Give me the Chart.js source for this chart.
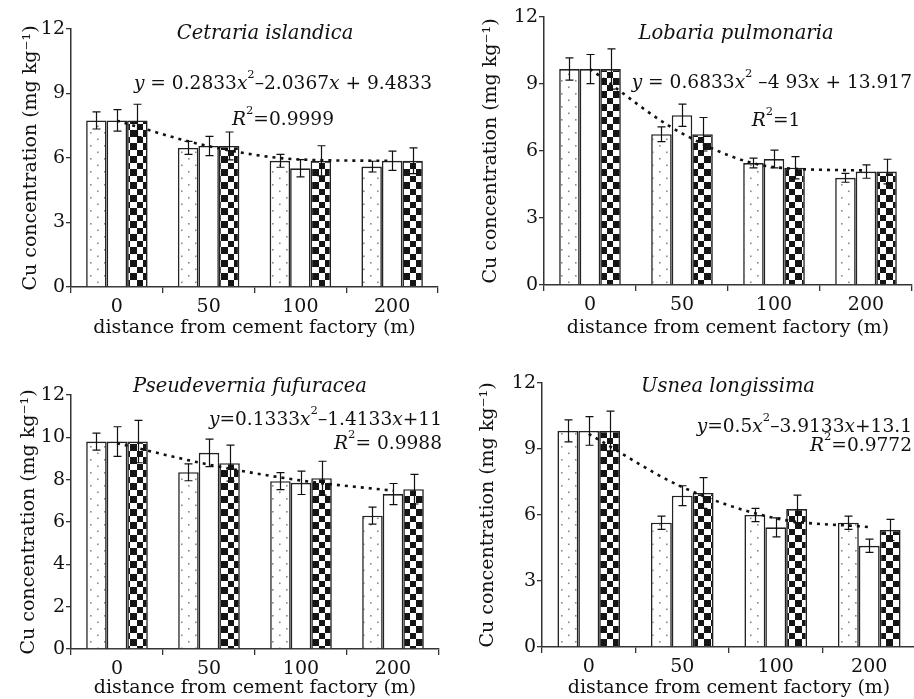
<!DOCTYPE html>
<html>
<head>
<meta charset="utf-8">
<script src="https://cdn.jsdelivr.net/npm/chart.js@4.4.1/dist/chart.umd.min.js"></script>
<style>
  html, body { margin:0; padding:0; background:#fff; width:914px; height:699px; overflow:hidden; }
  .panel { position:absolute; }
</style>
</head>
<body>
<div class="panel" style="left:0;top:0;"><canvas id="c1" width="457" height="340"></canvas></div>
<div class="panel" style="left:457px;top:0;"><canvas id="c2" width="460" height="340"></canvas></div>
<div class="panel" style="left:0;top:340px;"><canvas id="c3" width="457" height="359"></canvas></div>
<div class="panel" style="left:457px;top:340px;"><canvas id="c4" width="460" height="359"></canvas></div>
<script>
// ---------- DATA ----------
const categories = ['0', '50', '100', '200'];

// Cetraria islandica
const cetrariaDotted = [7.75, 6.47, 5.87, 5.60];
const cetrariaWhite  = [7.75, 6.56, 5.52, 5.87];
const cetrariaCheck  = [7.75, 6.56, 5.87, 5.87];
const cetrariaErrDotted = [0.40, 0.30, 0.30, 0.25];
const cetrariaErrWhite  = [0.50, 0.45, 0.40, 0.45];
const cetrariaErrCheck  = [0.75, 0.65, 0.70, 0.60];
const cetrariaTrend = [7.73, 6.55, 5.93, 5.87];

// Lobaria pulmonaria
const lobariaDotted = [9.67, 6.75, 5.46, 4.80];
const lobariaWhite  = [9.67, 7.60, 5.64, 5.08];
const lobariaCheck  = [9.67, 6.75, 5.25, 5.08];
const lobariaErrDotted = [0.50, 0.33, 0.22, 0.20];
const lobariaErrWhite  = [0.65, 0.50, 0.40, 0.30];
const lobariaErrCheck  = [0.90, 0.75, 0.50, 0.55];
const lobariaTrend = [9.67, 6.79, 5.28, 5.13];

// Pseudevernia fufuracea
const pseudDotted = [9.80, 8.35, 7.93, 6.30];
const pseudWhite  = [9.80, 9.27, 7.85, 7.32];
const pseudCheck  = [9.80, 8.78, 8.07, 7.55];
const pseudErrDotted = [0.40, 0.40, 0.40, 0.40];
const pseudErrWhite  = [0.70, 0.65, 0.55, 0.50];
const pseudErrCheck  = [1.00, 0.85, 0.80, 0.70];
const pseudTrend = [9.72, 8.71, 7.96, 7.48];

// Usnea longissima
const usneaDotted = [9.82, 5.65, 6.00, 5.65];
const usneaWhite  = [9.82, 6.88, 5.44, 4.60];
const usneaCheck  = [9.82, 7.00, 6.27, 5.32];
const usneaErrDotted = [0.50, 0.30, 0.30, 0.30];
const usneaErrWhite  = [0.65, 0.45, 0.43, 0.30];
const usneaErrCheck  = [0.90, 0.70, 0.63, 0.48];
const usneaTrend = [9.69, 7.27, 5.85, 5.45];

const ticks3 = [0, 3, 6, 9, 12];
const ticks2 = [0, 2, 4, 6, 8, 10, 12];

// ---------- STYLE ----------
const FONT = '"DejaVu Serif", "Liberation Serif", serif';
const INK = '#111111';

function makeDotPattern() {
  const c = document.createElement('canvas');
  c.width = 14; c.height = 13;
  const g = c.getContext('2d');
  g.fillStyle = '#fff'; g.fillRect(0, 0, 14, 13);
  g.fillStyle = '#8a8a8a';
  g.fillRect(6, 2, 1.6, 1.6);
  g.fillRect(13, 8.5, 1.6, 1.6);
  g.fillRect(-1, 8.5, 1.6, 1.6);
  return g.createPattern(c, 'repeat');
}
function makeCheckPattern() {
  const c = document.createElement('canvas');
  c.width = 13; c.height = 13;
  const g = c.getContext('2d');
  g.fillStyle = '#fff'; g.fillRect(0, 0, 13, 13);
  g.fillStyle = '#151515';
  g.fillRect(0, 0, 7, 7);
  g.fillRect(7, 7, 6, 6);
  return g.createPattern(c, 'repeat');
}
const dotPattern = makeDotPattern();
const checkPattern = makeCheckPattern();

function seg(t, o) { return Object.assign({ t: t }, o || {}); }

function drawRich(ctx, segs, x, y, align, size) {
  let total = 0;
  segs.forEach(s => {
    const sz = s.sup ? size * 0.62 : size;
    s.font = (s.i ? 'italic ' : '') + sz + 'px ' + FONT;
    ctx.font = s.font;
    s.w = ctx.measureText(s.t).width;
    total += s.w;
  });
  let cx = align === 'right' ? x - total : (align === 'center' ? x - total / 2 : x);
  ctx.textBaseline = 'middle';
  ctx.textAlign = 'left';
  ctx.fillStyle = INK;
  segs.forEach(s => {
    ctx.font = s.font;
    ctx.fillText(s.t, cx, s.sup ? y - size * 0.5 : y);
    cx += s.w;
  });
}

const errorBarPlugin = {
  id: 'errorBars',
  afterDatasetsDraw(chart) {
    const ctx = chart.ctx;
    const ys = chart.scales.y;
    ctx.save();
    ctx.strokeStyle = INK;
    ctx.lineWidth = 1.2;
    chart.data.datasets.forEach((ds, i) => {
      if (!ds.errors) return;
      const meta = chart.getDatasetMeta(i);
      meta.data.forEach((el, j) => {
        const v = ds.data[j], e = ds.errors[j];
        const x = Math.round(el.x) + 0.5;
        const y1 = ys.getPixelForValue(v + e), y2 = ys.getPixelForValue(v - e);
        ctx.beginPath();
        ctx.moveTo(x, y1); ctx.lineTo(x, y2);
        ctx.moveTo(x - 4, y1); ctx.lineTo(x + 4, y1);
        ctx.moveTo(x - 4, y2); ctx.lineTo(x + 4, y2);
        ctx.stroke();
      });
    });
    ctx.restore();
  }
};

const textPlugin = {
  id: 'panelText',
  afterDraw(chart, args, opts) {
    const ctx = chart.ctx;
    ctx.save();
    (opts.items || []).forEach(it => drawRich(ctx, it.segs, it.x, it.y, it.align, it.size || 18.6));
    ctx.restore();
  }
};

function makePanel(id, cfg) {
  const datasets = [
    { type: 'bar', data: cfg.dotted, errors: cfg.errDotted, backgroundColor: dotPattern, borderColor: '#222', borderWidth: 1.6, order: 2 },
    { type: 'bar', data: cfg.white, errors: cfg.errWhite, backgroundColor: '#ffffff', borderColor: '#222', borderWidth: 1.6, order: 2 },
    { type: 'bar', data: cfg.check, errors: cfg.errCheck, backgroundColor: checkPattern, borderColor: '#222', borderWidth: 1.6, order: 2 },
    { type: 'line', data: cfg.trend, borderColor: INK, borderWidth: 2.6, borderDash: [3, 5], pointRadius: 0, fill: false, cubicInterpolationMode: 'monotone', order: 1 }
  ];
  return new Chart(document.getElementById(id), {
    type: 'bar',
    data: { labels: categories, datasets: datasets },
    options: {
      responsive: false,
      animation: false,
      events: [],
      layout: { padding: cfg.padding },
      datasets: { bar: { categoryPercentage: 0.67, barPercentage: 1.0 } },
      plugins: {
        legend: { display: false },
        tooltip: { enabled: false },
        panelText: { items: cfg.texts }
      },
      scales: {
        x: {
          afterFit: s => { s.height = cfg.xHeight; },
          grid: { display: true, drawOnChartArea: false, offset: true, tickLength: 6, color: '#333', lineWidth: 1.3 },
          border: { display: true, color: '#333', width: 1.5 },
          ticks: { color: INK, font: { family: FONT, size: 19 }, padding: 3 },
          title: { display: true, text: 'distance from cement factory (m)', color: INK, font: { family: FONT, size: 19 }, padding: { top: 0, bottom: cfg.xTitlePad } }
        },
        y: {
          min: 0, max: 12,
          afterFit: s => { s.width = cfg.yWidth; },
          afterBuildTicks: s => { s.ticks = cfg.yTicks.map(v => ({ value: v })); },
          grid: { display: true, drawOnChartArea: false, tickLength: 5, color: '#333', lineWidth: 1.3 },
          border: { display: true, color: '#333', width: 1.5 },
          ticks: { color: INK, font: { family: FONT, size: 19 }, padding: 1 },
          title: { display: true, text: 'Cu concentration (mg kg\u207B\u00B9)', color: INK, font: { family: FONT, size: 19 }, padding: { top: cfg.yTitlePad, bottom: 0 } }
        }
      }
    },
    plugins: [errorBarPlugin, textPlugin]
  });
}

makePanel('c1', {
  dotted: cetrariaDotted, white: cetrariaWhite, check: cetrariaCheck,
  errDotted: cetrariaErrDotted, errWhite: cetrariaErrWhite, errCheck: cetrariaErrCheck,
  trend: cetrariaTrend, yTicks: ticks3,
  padding: { left: 0, right: 19, top: 29, bottom: 0 }, yWidth: 71, xHeight: 53, xTitlePad: 1, yTitlePad: 20,
  texts: [
    { segs: [seg('Cetraria islandica', { i: true })], x: 265, y: 34, align: 'center', size: 19.5 },
    { segs: [seg('y', { i: true }), seg(' = 0.2833'), seg('x', { i: true }), seg('2', { sup: true }), seg('\u20132.0367'), seg('x', { i: true }), seg(' + 9.4833')], x: 432, y: 84, align: 'right' },
    { segs: [seg('R', { i: true }), seg('2', { sup: true }), seg('=0.9999')], x: 283, y: 120, align: 'center' }
  ]
});

makePanel('c2', {
  dotted: lobariaDotted, white: lobariaWhite, check: lobariaCheck,
  errDotted: lobariaErrDotted, errWhite: lobariaErrWhite, errCheck: lobariaErrCheck,
  trend: lobariaTrend, yTicks: ticks3,
  padding: { left: 0, right: 5, top: 17, bottom: 0 }, yWidth: 87, xHeight: 55, xTitlePad: 1, yTitlePad: 23,
  texts: [
    { segs: [seg('Lobaria pulmonaria', { i: true })], x: 279, y: 34, align: 'center', size: 19.5 },
    { segs: [seg('y', { i: true }), seg(' = 0.6833'), seg('x', { i: true }), seg('2', { sup: true }), seg(' \u20134 93'), seg('x', { i: true }), seg(' + 13.917')], x: 455, y: 83, align: 'right' },
    { segs: [seg('R', { i: true }), seg('2', { sup: true }), seg('=1')], x: 319, y: 121, align: 'center' }
  ]
});

makePanel('c3', {
  dotted: pseudDotted, white: pseudWhite, check: pseudCheck,
  errDotted: pseudErrDotted, errWhite: pseudErrWhite, errCheck: pseudErrCheck,
  trend: pseudTrend, yTicks: ticks2,
  padding: { left: 0, right: 18, top: 55, bottom: 0 }, yWidth: 71, xHeight: 50, xTitlePad: 0, yTitlePad: 18,
  texts: [
    { segs: [seg('Pseudevernia fufuracea', { i: true })], x: 250, y: 47, align: 'center', size: 19.5 },
    { segs: [seg('y', { i: true }), seg('=0.1333'), seg('x', { i: true }), seg('2', { sup: true }), seg('\u20131.4133'), seg('x', { i: true }), seg('+11')], x: 442, y: 80, align: 'right' },
    { segs: [seg('R', { i: true }), seg('2', { sup: true }), seg('= 0.9988')], x: 442, y: 104, align: 'right' }
  ]
});

makePanel('c4', {
  dotted: usneaDotted, white: usneaWhite, check: usneaCheck,
  errDotted: usneaErrDotted, errWhite: usneaErrWhite, errCheck: usneaErrCheck,
  trend: usneaTrend, yTicks: ticks3,
  padding: { left: 0, right: 1, top: 43, bottom: 0 }, yWidth: 85, xHeight: 52, xTitlePad: 0, yTitlePad: 20,
  texts: [
    { segs: [seg('Usnea longissima', { i: true })], x: 271, y: 47, align: 'center', size: 19.5 },
    { segs: [seg('y', { i: true }), seg('=0.5'), seg('x', { i: true }), seg('2', { sup: true }), seg('\u20133.9133'), seg('x', { i: true }), seg('+13.1')], x: 455, y: 87, align: 'right' },
    { segs: [seg('R', { i: true }), seg('2', { sup: true }), seg('=0.9772')], x: 455, y: 106, align: 'right' }
  ]
});
</script>
</body>
</html>
